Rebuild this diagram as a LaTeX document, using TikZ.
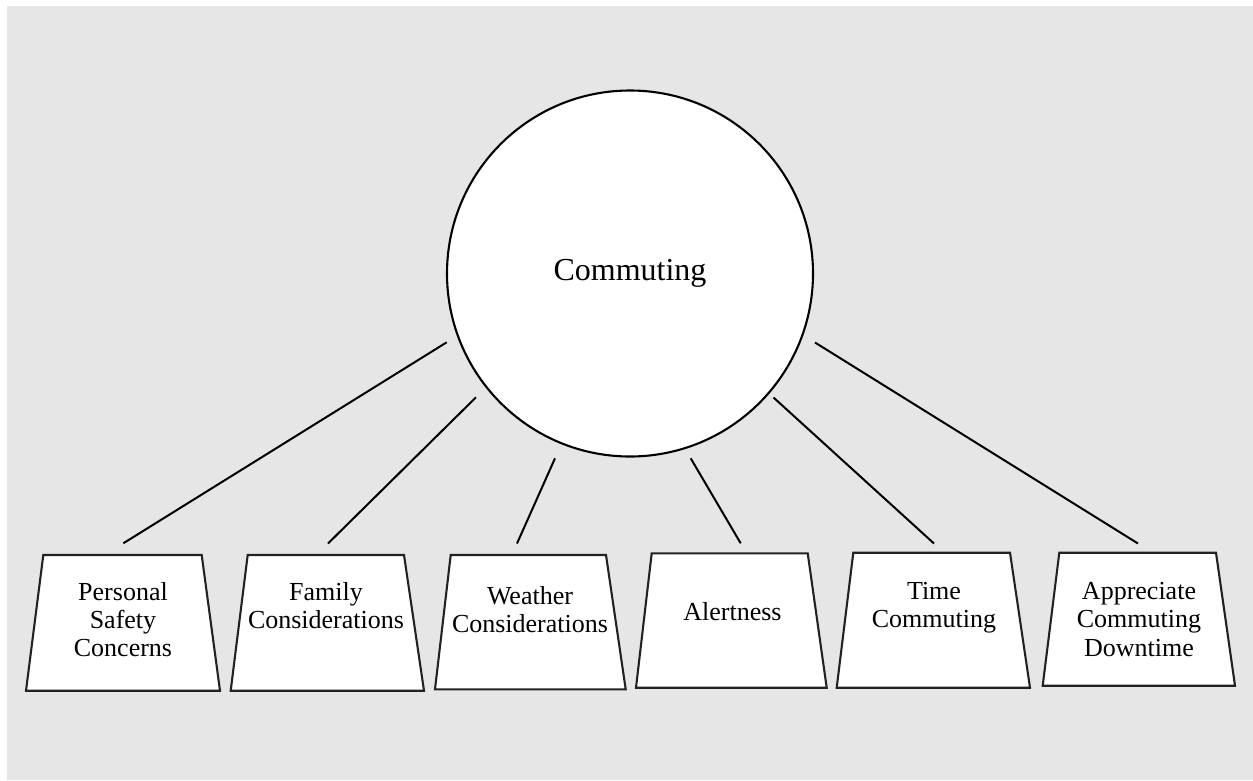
\documentclass[tikz,border=0pt]{standalone}
\usepackage{fontspec}
\setmainfont{Liberation Serif}
\definecolor{bggrey}{HTML}{E6E6E6}
\definecolor{edgegrey}{HTML}{222222}
\tikzset{
  boxshape/.style={draw=edgegrey, line width=2.1pt, fill=white, line join=miter},
  boxtext/.style={anchor=north, align=center, inner sep=0pt, font=\fontsize{26}{28.3}\selectfont},
  link/.style={draw=black, line width=2pt},
  hub/.style={circle, draw=black, line width=2.1pt, fill=white, minimum size=366pt, inner sep=0pt, font=\fontsize{32}{36}\selectfont}
}
\begin{document}
\begin{tikzpicture}[x=1pt,y=-1pt]
\useasboundingbox (0,0) rectangle (1253,780);
\fill[white] (0,0) rectangle (1253,780);
\fill[bggrey] (7,6) rectangle (1253,780);

% hub
\node[hub] (hub) at (630,273.5) {};
\node[anchor=base, inner sep=0pt, font=\fontsize{32}{36}\selectfont] (hubtext) at (630,280) {Commuting};

% trapezoids
\draw[boxshape] (43.3,555) -- (201.7,555) -- (220,690.7) -- (26,690.7) -- cycle;
\draw[boxshape] (247.7,555) -- (404,555) -- (424,690.7) -- (230.7,690.7) -- cycle;
\draw[boxshape] (450.7,555) -- (606,555) -- (625.7,689.3) -- (435,689.3) -- cycle;
\draw[boxshape] (651.7,553.3) -- (807.7,553.3) -- (826.7,687.7) -- (636,687.7) -- cycle;
\draw[boxshape] (853.3,552.7) -- (1010,552.7) -- (1030,687.7) -- (836.7,687.7) -- cycle;
\draw[boxshape] (1059.3,552.7) -- (1216,552.7) -- (1235,685.7) -- (1042.7,685.7) -- cycle;

% texts
\node[boxtext] (b1) at (123,582) {Personal\\Safety\\Concerns};
\node[boxtext] (b2) at (326,582) {Family\\Considerations};
\node[boxtext] (b3) at (530,586) {Weather\\Considerations};
\node[boxtext] (b4) at (732.5,602) {Alertness};
\node[boxtext] (b5) at (934,582) {Time\\Commuting};
\node[boxtext] (b6) at (1139,582) {Appreciate\\Commuting\\Downtime};

% connector end points
\coordinate (s1) at (446.7,342.3); \coordinate (e1) at (123.3,543.3);
\coordinate (s2) at (476,397.3);   \coordinate (e2) at (328,543.5);
\coordinate (s3) at (555,458.3);   \coordinate (e3) at (517,543.5);
\coordinate (s4) at (690.7,458.3); \coordinate (e4) at (740.7,543.3);
\coordinate (s5) at (773.5,397.5); \coordinate (e5) at (934,543.5);
\coordinate (s6) at (815,342.5);   \coordinate (e6) at (1138,543.5);

\draw[link] (s1) -- (e1);
\draw[link] (s2) -- (e2);
\draw[link] (s3) -- (e3);
\draw[link] (s4) -- (e4);
\draw[link] (s5) -- (e5);
\draw[link] (s6) -- (e6);
\end{tikzpicture}
\end{document}
